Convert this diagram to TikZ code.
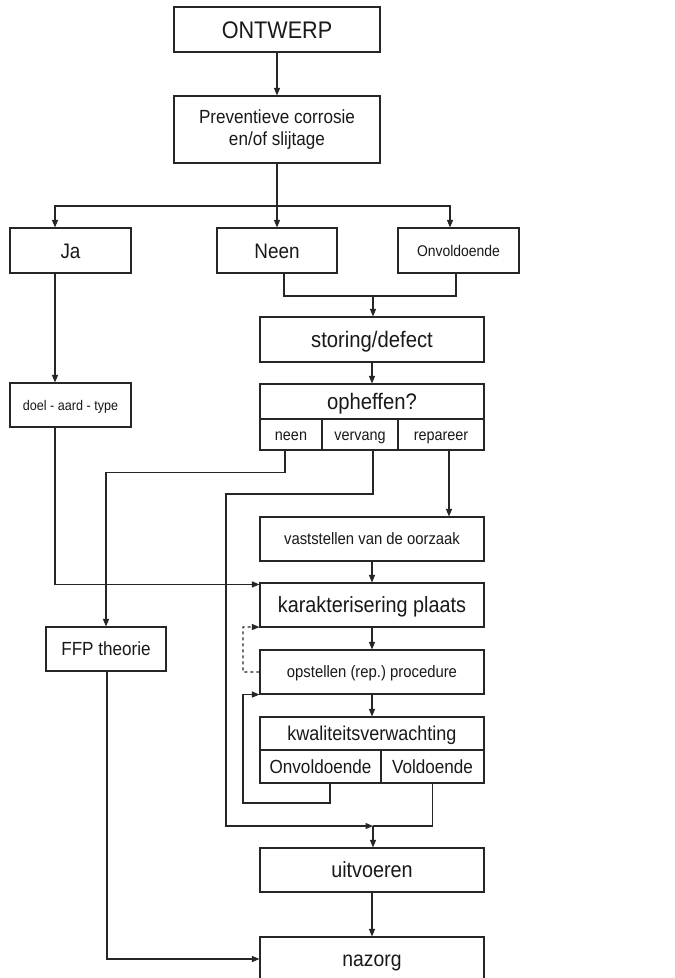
\documentclass[tikz,border=0pt]{standalone}
\usepackage{fontspec}
\setmainfont[FakeStretch=0.9]{Liberation Sans}
\usetikzlibrary{arrows.meta}
\frenchspacing
\begin{document}
\begin{tikzpicture}[x=1pt,y=-1pt,
  box/.style={draw=black!85, line width=1.1pt, inner sep=0pt, text=black!90, align=center},
  conn/.style={draw=black!85, line width=1.1pt},
  arr/.style={conn, -{Triangle[length=7.5pt,width=6pt]}},
  fs/.style={font=\fontsize{#1}{#1}\selectfont, text height={0.72*#1pt}, text depth=0pt}
]
\useasboundingbox (0,0) rectangle (675,978);
\clip (0,0) rectangle (675,978);
\fill[white] (0,0) rectangle (675,978);

% nodes
\node[box, fs=24, minimum width=206pt, minimum height=45pt] (ontwerp) at (277,29.5) {ONTWERP};
\node[box, minimum width=206pt, minimum height=67pt, font=\fontsize{19}{22}\selectfont] (prev) at (277,129.5) {Preventieve corrosie\\en/of slijtage};
\node[box, fs=21, minimum width=121pt, minimum height=45pt] (ja) at (70.5,250.5) {Ja};
\node[box, fs=21, minimum width=120pt, minimum height=45pt] (neen) at (277,250.5) {Neen};
\node[box, fs=15.5, minimum width=121pt, minimum height=45pt] (onv) at (458.5,250.5) {Onvoldoende};
\node[box, fs=22.5, minimum width=224pt, minimum height=45pt] (storing) at (372,339.5) {storing/defect};
\node[box, fs=22.5, minimum width=224pt, minimum height=35pt] (ophef) at (372,401.5) {opheffen?};
\node[box, fs=16, minimum width=62pt, minimum height=31pt] (cneen) at (291,434.5) {neen};
\node[box, fs=16, minimum width=76pt, minimum height=31pt] (cverv) at (360,434.5) {vervang};
\node[box, fs=16, minimum width=86pt, minimum height=31pt] (crep) at (441,434.5) {repareer};
\node[box, fs=14, minimum width=121pt, minimum height=44pt] (doel) at (70.5,405) {doel - aard - type};
\node[box, fs=16.5, minimum width=224pt, minimum height=44pt] (vast) at (372,539) {vaststellen van de oorzaak};
\node[box, fs=22, minimum width=224pt, minimum height=44pt] (kar) at (372,605) {karakterisering plaats};
\node[box, fs=19, minimum width=120pt, minimum height=44pt] (ffp) at (106,649) {FFP theorie};
\node[box, fs=16.5, minimum width=224pt, minimum height=44pt] (opst) at (372,672) {opstellen (rep.) procedure};
\node[box, fs=20, minimum width=224pt, minimum height=33pt] (kwal) at (372,733.5) {kwaliteitsverwachting};
\node[box, fs=19, minimum width=121pt, minimum height=33pt] (conv) at (320.5,766.5) {Onvoldoende};
\node[box, fs=19, minimum width=103pt, minimum height=33pt] (cvol) at (432.5,766.5) {Voldoende};
\node[box, fs=22, minimum width=224pt, minimum height=44pt] (uitv) at (372,870) {uitvoeren};
\node[box, fs=21.5, minimum width=224pt, minimum height=44pt] (nazorg) at (372,959) {nazorg};

% helper coordinates
\coordinate (split) at (277,206);
\coordinate (m1) at (373,296);
\coordinate (m2) at (373,826);
\coordinate (vcol) at (226,494);
\coordinate (dcol) at (243,627);
\coordinate (lcorner) at (243,803);

% connectors
\draw[arr] (ontwerp) -- (prev);
\draw[conn] (prev.south) -- (split);
\draw[arr] (split) -- (neen.north);
\draw[arr] (split) -| ([xshift=-15.5pt]ja.north);
\draw[arr] (split) -| ([xshift=-8.5pt]onv.north);
\draw[conn] ([xshift=7pt]neen.south) |- (m1) -| ([xshift=-2.5pt]onv.south);
\draw[arr] (m1) -- (m1 |- storing.north);
\draw[arr] (storing) -- (ophef);
\draw[arr] ([xshift=-15.5pt]ja.south) -- ([xshift=-15.5pt]doel.north);
\draw[arr] ([xshift=-15.5pt]doel.south) |- ([yshift=-2pt]kar.north west);
\draw[arr] ([xshift=-6pt]cneen.south) -- ++(0,22) -| (ffp.north);
\draw[arr] ([xshift=13pt]cverv.south) |- (vcol) |- (m2);
\draw[arr] ([xshift=8pt]crep.south) -- ([xshift=8pt]crep.south |- vast.north);
\draw[arr] (vast) -- (kar);
\draw[arr] (kar) -- (opst);
\draw[arr] (opst) -- (kwal);
\draw[arr, dashed] (opst.west) -| (dcol) -- ([yshift=0.5pt]kar.south west);
\draw[arr] ([xshift=9.5pt]conv.south) |- (lcorner) |- (opst.south west);
\draw[conn] (cvol.south) |- (m2);
\draw[arr] (m2) -- (m2 |- uitv.north);
\draw[arr] (uitv) -- (nazorg);
\draw[arr] ([xshift=1pt]ffp.south) |- (nazorg.west);
\end{tikzpicture}
\end{document}
